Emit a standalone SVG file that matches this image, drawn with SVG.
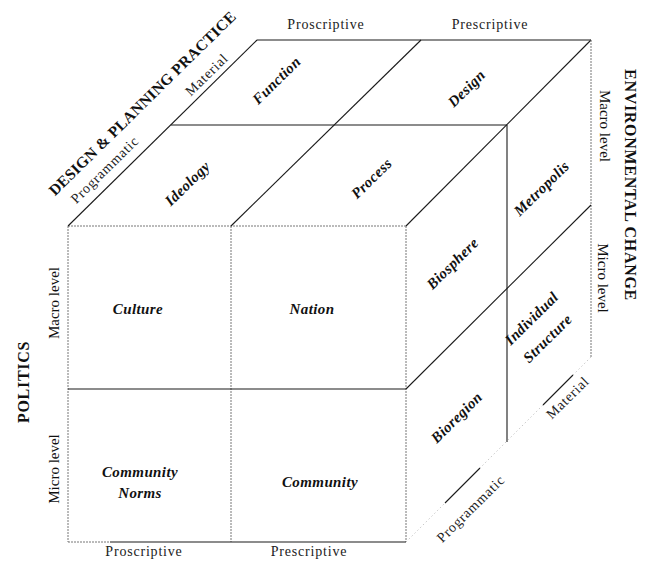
<svg xmlns="http://www.w3.org/2000/svg" width="647" height="567" viewBox="0 0 647 567">
<style>
.bg{fill:#fff}
.s{stroke:#1a1a1a;stroke-width:1.1;fill:none}
.d{stroke:#777;stroke-width:1;fill:none;stroke-dasharray:2 1}
.f{stroke:#bbb;stroke-width:0.8;fill:none;stroke-dasharray:1.5 2.5}
.cell{font-family:"Liberation Serif","Times New Roman",serif;font-weight:bold;font-style:italic;font-size:15px;fill:#111;text-anchor:middle;letter-spacing:0.4px}
.ax{font-family:"Liberation Serif","Times New Roman",serif;font-size:15px;fill:#111;text-anchor:middle}
.axs{font-family:"Liberation Serif","Times New Roman",serif;font-size:14px;fill:#222;text-anchor:middle;letter-spacing:0.8px}
.ttl{font-family:"Liberation Serif","Times New Roman",serif;font-weight:bold;font-size:16px;fill:#111;text-anchor:middle;letter-spacing:0.7px}
.ttl2{font-family:"Liberation Serif","Times New Roman",serif;font-weight:bold;font-size:15.5px;fill:#111;text-anchor:middle;letter-spacing:0.3px}
</style>
<rect class="bg" x="0" y="0" width="647" height="567"/>
<g id="connectors">
  <!-- front face -->
  <line class="d" x1="68" y1="226" x2="406" y2="226"/>
  <line class="d" x1="68" y1="226" x2="68" y2="542"/>
  <line class="d" x1="231" y1="226" x2="231" y2="542"/>
  <line class="d" x1="406" y1="226" x2="406" y2="542"/>
  <line class="s" x1="68" y1="389" x2="406" y2="389"/>
  <line class="d" x1="68" y1="542" x2="110" y2="542"/>
  <line class="s" x1="110" y1="542" x2="406" y2="542"/>
  <!-- top face -->
  <line class="s" x1="257" y1="40" x2="591" y2="40"/>
  <line class="s" x1="171" y1="125" x2="507" y2="125"/>
  <line class="s" x1="68" y1="226" x2="257" y2="40"/>
  <line class="s" x1="231" y1="226" x2="421" y2="40"/>
  <line class="s" x1="406" y1="226" x2="591" y2="40"/>
  <!-- right face -->
  <line class="s" x1="507" y1="125" x2="507" y2="442"/>
  <line class="d" x1="591" y1="40" x2="591" y2="357"/>
  <line class="s" x1="406" y1="389" x2="591" y2="205"/>
  <line class="f" x1="406" y1="542" x2="591" y2="357"/>
  <line class="s" x1="445" y1="503" x2="480" y2="468"/>
  <line class="s" x1="543" y1="405" x2="573" y2="375"/>
</g>
<g id="axis-politics">
  <text class="ttl" transform="translate(29,382) rotate(-90)">POLITICS</text>
  <text class="ax" transform="translate(59,303) rotate(-90)">Macro level</text>
  <text class="ax" transform="translate(59,469) rotate(-90)">Micro level</text>
</g>
<g id="axis-bottom">
  <text class="axs" x="144" y="556">Proscriptive</text>
  <text class="axs" x="309" y="556">Prescriptive</text>
</g>
<g id="axis-top">
  <text class="axs" x="326" y="29">Proscriptive</text>
  <text class="axs" x="490" y="29">Prescriptive</text>
</g>
<g id="axis-design">
  <text class="ttl2" transform="translate(146,107) rotate(-44.5)">DESIGN &amp; PLANNING PRACTICE</text>
  <text class="axs" transform="translate(108,173) rotate(-44.5)">Programmatic</text>
  <text class="axs" transform="translate(210,78) rotate(-44.5)">Material</text>
</g>
<g id="axis-environmental">
  <text class="ttl" transform="translate(625,185) rotate(90)">ENVIRONMENTAL CHANGE</text>
  <text class="ax" transform="translate(600,126) rotate(90)">Macro level</text>
  <text class="ax" transform="translate(598,278) rotate(90)">Micro level</text>
  <text class="axs" transform="translate(571,401) rotate(-44.5)">Material</text>
  <text class="axs" transform="translate(474,512) rotate(-44.5)">Programmatic</text>
</g>
<g id="node-culture"><text class="cell" x="138" y="314">Culture</text></g>
<g id="node-nation"><text class="cell" x="312" y="314">Nation</text></g>
<g id="node-community-norms"><text class="cell" x="140" y="477">Community</text><text class="cell" x="140" y="498">Norms</text></g>
<g id="node-community"><text class="cell" x="320" y="487">Community</text></g>
<g id="node-function"><text class="cell" transform="translate(280,84) rotate(-44.5)">Function</text></g>
<g id="node-design"><text class="cell" transform="translate(470,92) rotate(-44.5)">Design</text></g>
<g id="node-ideology"><text class="cell" transform="translate(191,187) rotate(-44.5)">Ideology</text></g>
<g id="node-process"><text class="cell" transform="translate(375,182) rotate(-44.5)">Process</text></g>
<g id="node-metropolis"><text class="cell" transform="translate(545,192) rotate(-44.5)">Metropolis</text></g>
<g id="node-biosphere"><text class="cell" transform="translate(456,267) rotate(-44.5)">Biosphere</text></g>
<g id="node-individual-structure"><text class="cell" transform="translate(535,322) rotate(-44.5)">Individual</text><text class="cell" transform="translate(551,342) rotate(-44.5)">Structure</text></g>
<g id="node-bioregion"><text class="cell" transform="translate(460,421) rotate(-44.5)">Bioregion</text></g>
</svg>
